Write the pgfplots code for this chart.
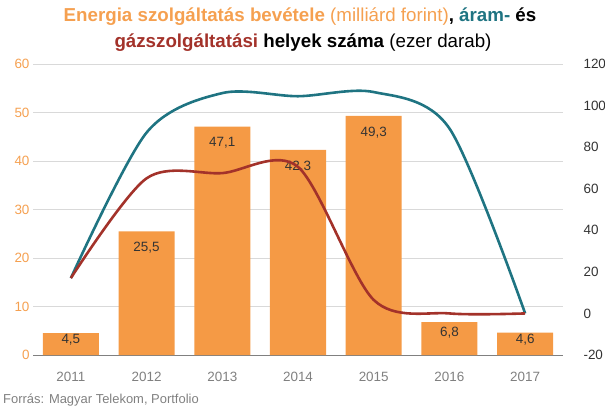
\documentclass[border=0pt]{standalone}
\usepackage{pgfplots}
\pgfplotsset{compat=1.18}
\usepackage{fontspec}
\setmainfont{Liberation Sans}
\definecolor{barorange}{HTML}{F59A45}
\definecolor{titleorange}{HTML}{F5A050}
\definecolor{aramteal}{HTML}{1F7482}
\definecolor{gazred}{HTML}{A3322A}
\definecolor{gridgray}{HTML}{D9D9D9}
\definecolor{xlabgray}{HTML}{808080}
\definecolor{darktext}{HTML}{333333}
\begin{document}
\begin{tikzpicture}[x=1bp,y=1bp]
\path[use as bounding box] (0,0) rectangle (605,413);
\begin{axis}[
  at={(33bp,58bp)}, anchor=south west, scale only axis,
  width=530bp, height=291bp,
  xmin=-0.5, xmax=6.5, ymin=0, ymax=60,
  ytick={0,10,...,60},
  xtick={0,...,6}, xticklabels={2011,2012,2013,2014,2015,2016,2017},
  axis y line*=left, axis x line*=bottom,
  y axis line style={draw=none},
  x axis line style={draw=xlabgray, line width=0.8bp, -},
  ymajorgrids, grid style={gridgray, line width=0.8bp},
  tick style={draw=none}, major tick length=0pt,
  /pgf/number format/assume math mode=true,
  yticklabel style={text=titleorange, font=\fontsize{13.5}{14}\selectfont},
  xticklabel style={text=xlabgray, font=\fontsize{13.5}{14}\selectfont, yshift=-14bp},
  clip=false,
]
\addplot[ybar, bar width=0.74, fill=barorange, draw=none] coordinates {
  (0,4.5) (1,25.5) (2,47.1) (3,42.3) (4,49.3) (5,6.8) (6,4.6)};
\addplot[draw=none, mark=none, nodes near coords, point meta=explicit symbolic,
  nodes near coords style={anchor=center, text=darktext, font=\fontsize{13.5}{14}\selectfont}]
  table[meta=label] {
x y label
0 3.1 {4,5}
1 22.1 {25,5}
2 43.8 {47,1}
3 38.8 {42,3}
4 45.8 {49,3}
5 4.7 {6,8}
6 3.1 {4,6}
};
\end{axis}
\begin{axis}[
  at={(33bp,58bp)}, anchor=south west, scale only axis,
  width=530bp, height=291bp,
  xmin=-0.5, xmax=6.5, ymin=-20, ymax=120,
  ytick={-20,0,...,120},
  axis y line*=right, axis x line=none,
  y axis line style={draw=none},
  tick style={draw=none}, major tick length=0pt,
  /pgf/number format/assume math mode=true,
  yticklabel style={text=darktext, font=\fontsize{13.5}{14}\selectfont, xshift=17bp},
  clip=false,
]
\addplot[aramteal, line width=2.6bp, smooth, mark=none] coordinates {
  (0,17) (1,87) (2,106) (3,104.5) (4,106.5) (5,89) (6,0)};
\addplot[gazred, line width=2.6bp, smooth, mark=none] coordinates {
  (0,17) (1,65) (2,67.5) (3,70.5) (4,6.5) (5,0) (6,0)};
\end{axis}
\node[font=\fontsize{18.8}{22}\selectfont] at (300,396) {\textbf{\color{titleorange}Energia szolgáltatás bevétele} {\color{titleorange}(milliárd forint)}\textbf{, {\color{aramteal}áram-} és}};
\node[font=\fontsize{18.8}{22}\selectfont] at (303,370) {\textbf{{\color{gazred}gázszolgáltatási} helyek száma} (ezer darab)};
\node[anchor=west, text=xlabgray, font=\fontsize{13}{14}\selectfont, inner sep=0pt] at (3,13) {Forrás: Magyar Telekom, Portfolio};
\end{tikzpicture}
\end{document}
